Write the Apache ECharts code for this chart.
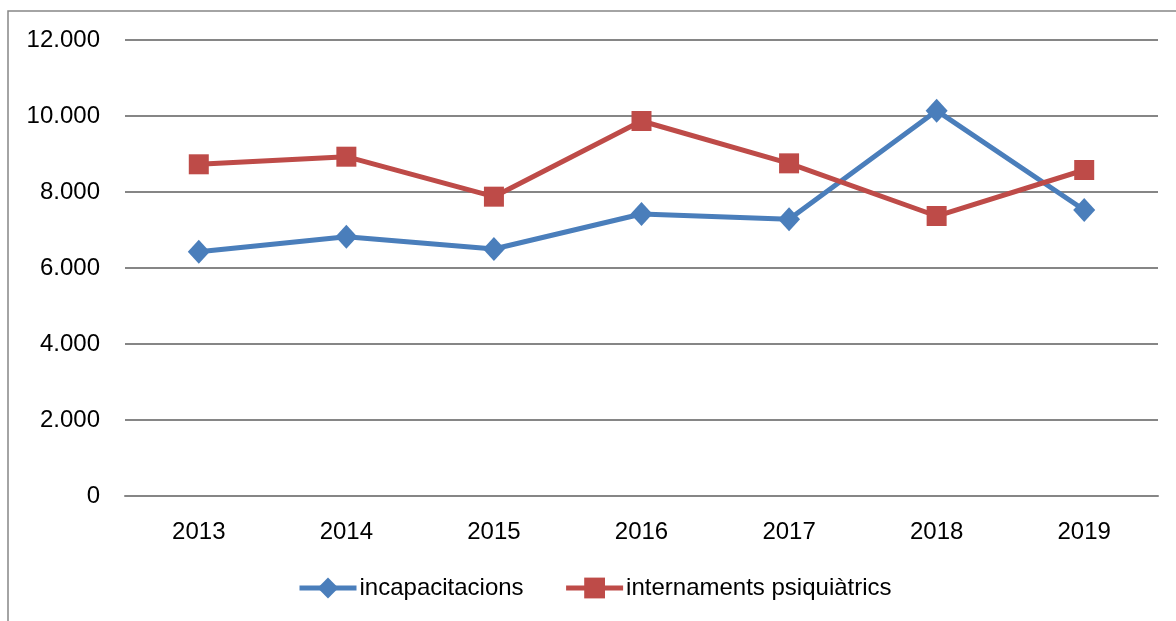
<!DOCTYPE html>
<html><head><meta charset="utf-8">
<script src="https://cdn.jsdelivr.net/npm/echarts@6/dist/echarts.min.js"></script>
<style>html,body{margin:0;padding:0;background:#fff}#c{width:1176px;height:621px}</style>
</head><body><div id="c"></div>
<script>
const categories = ['2013','2014','2015','2016','2017','2018','2019'];
const incapacitacions = [6430, 6825, 6500, 7421, 7281, 10140, 7526];
const internaments = [8729, 8929, 7877, 9868, 8754, 7368, 8579];
const yTicks = [0, 2000, 4000, 6000, 8000, 10000, 12000];
const seriesNames = ['incapacitacions', 'internaments psiquiàtrics'];

const FONT = 'Liberation Sans';
function fmt(v){ return String(v).replace(/\B(?=(\d{3})+(?!\d))/g, '.'); }
const chart = echarts.init(document.getElementById('c'));
chart.setOption({
  animation: false,
  backgroundColor: '#fff',
  textStyle: { fontFamily: FONT },
  graphic: [{ type: 'rect', shape: { x: 8, y: 11, width: 1300, height: 700 }, style: { fill: 'none', stroke: '#868686', lineWidth: 1.5 }, silent: true }],
  grid: { left: 125, right: 18, top: 40, bottom: 125, containLabel: false },
  legend: {
    bottom: 16, left: 292,
    itemWidth: 57, itemHeight: 26, itemGap: 40,
    lineStyle: { width: 5 },
    textStyle: { fontFamily: FONT, fontSize: 24, color: '#000', padding: [0,0,0,-2] },
    data: seriesNames
  },
  xAxis: {
    type: 'category', data: categories, boundaryGap: true,
    axisLine: { show: true, lineStyle: { color: '#868686', width: 2 } },
    axisTick: { show: false },
    axisLabel: { color: '#000', fontSize: 24, fontFamily: FONT, margin: 24 }
  },
  yAxis: {
    type: 'value', min: yTicks[0], max: yTicks[yTicks.length-1], interval: 2000,
    axisLine: { show: false }, axisTick: { show: false },
    splitLine: { lineStyle: { color: '#868686', width: 2 } },
    axisLabel: { color: '#000', fontSize: 24, fontFamily: FONT, margin: 25, formatter: fmt }
  },
  series: [
    { name: seriesNames[0], type: 'line', data: incapacitacions, symbol: 'diamond', symbolSize: [22, 24],
      lineStyle: { color: '#4A7EBB', width: 5 }, itemStyle: { color: '#4A7EBB' } },
    { name: seriesNames[1], type: 'line', data: internaments, symbol: 'rect', symbolSize: 20,
      lineStyle: { color: '#BE4B48', width: 5 }, itemStyle: { color: '#BE4B48' } }
  ]
});
</script></body></html>
